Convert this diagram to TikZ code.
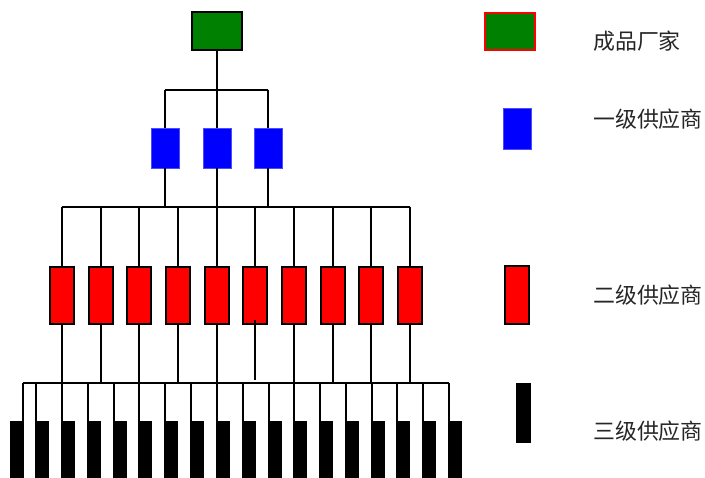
\documentclass[tikz,border=0pt]{standalone}
\usepackage{fontspec}
\newfontfamily\cjk{Noto Sans CJK SC}
\begin{document}
\begin{tikzpicture}[x=1bp,y=-1bp,
  conn/.style={line width=2bp,black},
  maker/.style={draw=black,line width=2bp,fill=green!50!black,minimum width=50bp,minimum height=38bp,inner sep=0pt},
  tierone/.style={draw=blue!70!white,line width=0.6bp,fill=blue,minimum width=28bp,minimum height=40bp,inner sep=0pt},
  tiertwo/.style={draw=black,line width=2bp,fill=red,minimum width=24bp,minimum height=57bp,inner sep=0pt},
  tierthree/.style={fill=black,minimum width=14bp,minimum height=60bp,inner sep=0pt,anchor=north},
  legtext/.style={anchor=west,font=\cjk\fontsize{22pt}{22pt}\selectfont,text=black!85,inner sep=0pt}]
\useasboundingbox (0,0) rectangle (705,478);
% tree nodes
\node[maker] (top) at (217,31) {};
\foreach \i/\x in {1/165,2/217,3/268}
  \node[tierone] (s\i) at (\x,148) {};
\foreach \i/\x in {1/62,2/101,3/139,4/178,5/217,6/255,7/294,8/333,9/371,10/410}
  \node[tiertwo] (r\i) at (\x,295.5) {};
\node[tierthree] (b1) at (17,421) {};
\foreach \i/\x in {2/36,3/62,4/88,5/114,6/139,7/165,8/191,9/217,10/243,11/269,12/294,13/320,14/346,15/372,16/397,17/423,18/449}
  \node[tierthree] (b\i) at (\x+6,421) {};
% buses
\coordinate (busA) at (217,90);
\coordinate (busB) at (217,207);
\coordinate (busC) at (217,383);
\draw[conn] (top.south) -- (busA);
\draw[conn] (s1.north |- busA) -- (s3.north |- busA);
\foreach \i in {1,2,3} {
  \draw[conn] (s\i.north |- busA) -- (s\i.north);
  \draw[conn] (s\i.south) -- (s\i.south |- busB);
}
\draw[conn] (r1.north |- busB) -- (r10.north |- busB);
\foreach \i in {1,...,10}
  \draw[conn] (r\i.north |- busB) -- (r\i.north);
\foreach \i in {1,2,3,4,5,7,8,9,10}
  \draw[conn] (r\i.south) -- (r\i.south |- busC);
\draw[conn] (r6.south) ++(0,-5) -- ++(0,59.5);
\draw[conn] ([xshift=-1bp]b1.north east |- busC) -- ([xshift=1bp]b18.north west |- busC);
\draw[conn] (b1.north east) ++(-1,0) -- ++(0,-38);
\foreach \i in {2,...,18}
  \draw[conn] (b\i.north west) ++(1,0) -- ++(0,-38);
% legend
\node[maker,draw=red,minimum height=37.5bp] (lg) at (510,31.3) {};
\node[tierone,minimum height=40.5bp] (lb) at (517,128.7) {};
\node[tiertwo,minimum height=58bp] (lr) at (517,295) {};
\node[tierthree,anchor=center,minimum width=15bp] (lk) at (523,412.5) {};
\node[legtext] (t1) at (593,41) {成品厂家};
\node[legtext] (t2) at (593,119) {一级供应商};
\node[legtext] (t3) at (593,295) {二级供应商};
\node[legtext] (t4) at (593,431) {三级供应商};
\end{tikzpicture}
\end{document}
